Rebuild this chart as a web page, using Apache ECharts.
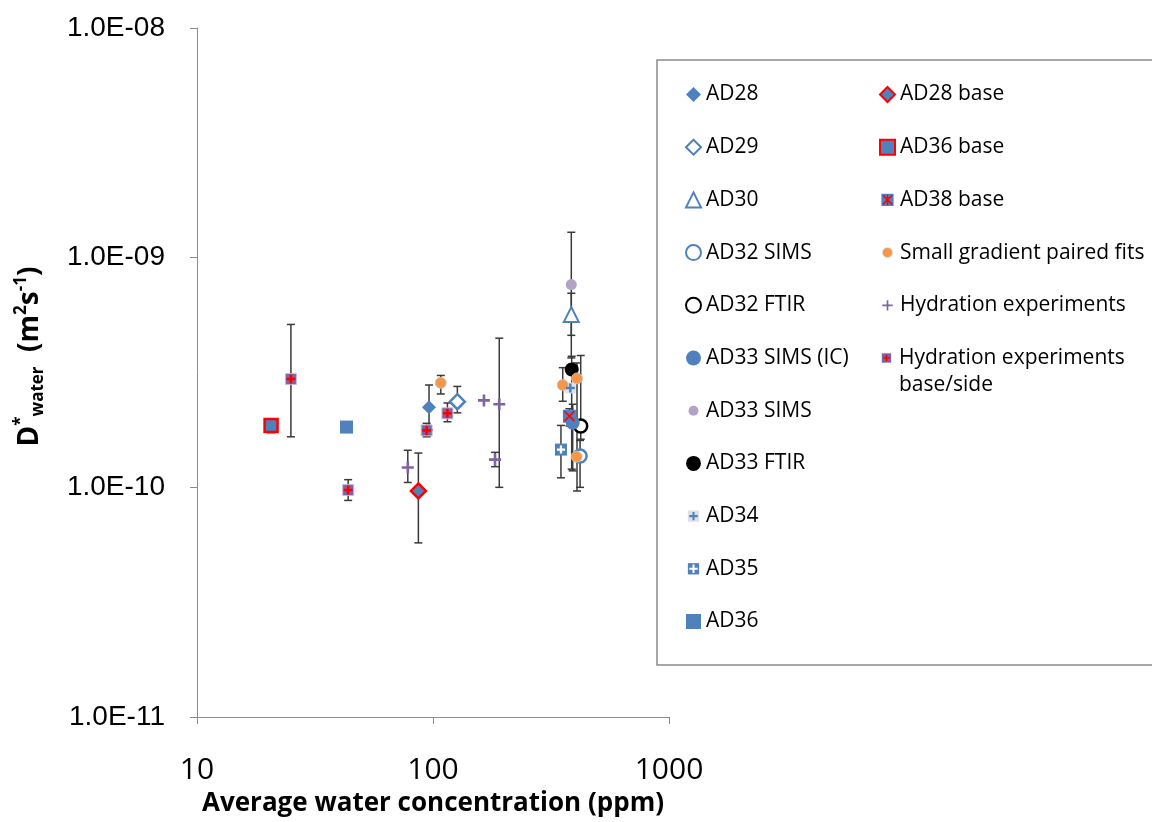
<!DOCTYPE html>
<html>
<head>
<meta charset="utf-8">
<script src="https://cdn.jsdelivr.net/npm/echarts@6/dist/echarts.min.js"></script>
<style>
  html, body { margin: 0; padding: 0; background: #fff; }
  #chart { width: 1152px; height: 822px; }
</style>
</head>
<body>
<div id="chart"></div>
<script>
// rows: [water ppm, D*water, error low, error high]  (null = no error bar)
const ad28 = [[96.2, 2.23e-10, 1.78e-10, 2.79e-10]]
const ad29 = [[126.8, 2.36e-10, 2.11e-10, 2.75e-10]]
const ad30 = [[385.5, 5.65e-10, 3.66e-10, 7.0e-10]]
const ad32Sims = [[419.9, 1.37e-10, 1.0e-10, 1.6e-10]]
const ad32Ftir = [[422.6, 1.85e-10, 1.62e-10, 3.75e-10]]
const ad33SimsIc = [[390.8, 1.91e-10, 1.18e-10, 2.3e-10]]
const ad33Sims = [[385.5, 7.64e-10, 4.59e-10, 1.29e-9]]
const ad33Ftir = [[387.0, 3.26e-10, 1.2e-10, 3.72e-10]]
const ad34 = [[381.9, 2.71e-10, null, null]]
const ad35 = [[348.5, 1.46e-10, 1.1e-10, 1.86e-10]]
const ad36 = [[43.0, 1.83e-10, null, null]]
const ad28Base = [[86.7, 9.64e-11, 5.73e-11, 1.41e-10]]
const ad36Base = [[20.6, 1.86e-10, 1.73e-10, 1.95e-10]]
const ad38Base = [[378.5, 2.04e-10, 1.85e-10, 2.2e-10]]
const smallGradient = [
  [107.9, 2.85e-10, 2.55e-10, 3.07e-10],
  [354.6, 2.79e-10, 2.37e-10, 3.32e-10],
  [407.6, 2.98e-10, 9.64e-11, 3.48e-10],
  [406.0, 1.36e-10, null, null],
]
const hydration = [
  [78.2, 1.22e-10, 1.05e-10, 1.45e-10],
  [164.4, 2.39e-10, null, null],
  [190.9, 2.3e-10, 1.0e-10, 4.46e-10],
  [183.2, 1.32e-10, 1.23e-10, 1.42e-10],
]
const hydrationBase = [
  [25.0, 2.96e-10, 1.66e-10, 5.12e-10],
  [43.7, 9.73e-11, 8.77e-11, 1.08e-10],
  [94.0, 1.77e-10, 1.66e-10, 1.9e-10],
  [115.1, 2.1e-10, 1.93e-10, 2.33e-10],
]

const xTicks = [10, 100, 1000]
const xTickLabels = ['10', '100', '1000']
const yTicks = [1e-11, 1e-10, 1e-9, 1e-8]
const yTickLabels = ['1.0E-11', '1.0E-10', '1.0E-09', '1.0E-08']

const BLUE = '#4F81BD'
const RED = '#FF0000'
const PURPLE = '#8064A2'
const ORANGE = '#F79646'
const LAVENDER = '#B3A2C7'

// symbol paths
const PLUS = 'path://M3.9,0H6.1V3.9H10V6.1H6.1V10H3.9V6.1H0V3.9H3.9Z'
const PLUS_THICK = 'path://M3.6,0H6.4V3.6H10V6.4H6.4V10H3.6V6.4H0V3.6H3.6Z'
const CROSS = 'path://M0,1L1,0L5,4L9,0L10,1L6,5L10,9L9,10L5,6L1,10L0,9L4,5Z'

// legend icons (two colours or smaller than the default box)
const svgIcon = (body) =>
  'image://data:image/svg+xml;utf8,' +
  encodeURIComponent("<svg xmlns='http://www.w3.org/2000/svg' width='16' height='16' viewBox='0 0 16 16'>" + body + '</svg>')
const plusPath = (c) => "<path d='M6.9,3.5h2.2v3.4h3.4v2.2h-3.4v3.4h-2.2v-3.4h-3.4v-2.2h3.4z' fill='" + c + "'/>"
const ICON_AD34 = svgIcon("<rect x='2' y='2' width='12' height='12' fill='#DCE1E8'/>" + plusPath(BLUE))
const ICON_AD35 = svgIcon("<rect x='2' y='2' width='12' height='12' fill='" + BLUE + "'/>" + plusPath('#fff'))
const ICON_AD38 = svgIcon("<rect x='1.5' y='1.5' width='13' height='13' fill='" + BLUE + "'/>" +
  "<path d='M3,3L13,13M13,3L3,13M8,2.5V13.5' stroke='" + RED + "' stroke-width='1.6'/>")
const ICON_HYD_BASE = svgIcon("<rect x='3' y='3' width='10' height='10' fill='" + PURPLE + "'/>" +
  "<path d='M7.1,4.5h1.8v2.6h2.6v1.8h-2.6v2.6h-1.8v-2.6h-2.6v-1.8h2.6z' fill='" + RED + "'/>")
const ICON_ORANGE = svgIcon("<circle cx='8' cy='8' r='5.3' fill='" + ORANGE + "' stroke='#d0d6de' stroke-width='0.8'/>")
const ICON_LAVENDER = svgIcon("<circle cx='8' cy='8' r='5.3' fill='" + LAVENDER + "'/>")
const ICON_HYD = svgIcon("<path d='M7.1,2.5h1.8v4.6h4.6v1.8h-4.6v4.6h-1.8v-4.6h-4.6v-1.8h4.6z' fill='" + PURPLE + "'/>")

const tickLabel = (ticks, labels) => (v) => {
  const i = ticks.findIndex((t) => Math.abs(Math.log10(t) - Math.log10(v)) < 0.01)
  return i >= 0 ? labels[i] : ''
}

const pts = (rows) => rows.map((r) => [r[0], r[1]])

const scatter = (name, rows, symbol, size, itemStyle, z) => ({
  name,
  type: 'scatter',
  data: pts(rows),
  symbol,
  symbolSize: size,
  itemStyle: Object.assign({ opacity: 1 }, itemStyle),
  emphasis: { disabled: true },
  z: z || 3,
})

// all error bars in one custom series, drawn behind the markers
const allRows = [ad28, ad29, ad30, ad32Sims, ad32Ftir, ad33SimsIc, ad33Sims, ad33Ftir, ad34, ad35, ad36,
  ad28Base, ad36Base, ad38Base, smallGradient, hydration, hydrationBase]
const errData = allRows.flat().filter((r) => r[2] != null)

function renderErr(params, api) {
  const x = api.value(0)
  const p1 = api.coord([x, api.value(2)])
  const p2 = api.coord([x, api.value(3)])
  const w = 4
  const style = { stroke: '#3a3a3a', lineWidth: 1.5 }
  return {
    type: 'group',
    children: [
      { type: 'line', shape: { x1: p1[0], y1: p1[1], x2: p2[0], y2: p2[1] }, style },
      { type: 'line', shape: { x1: p1[0] - w, y1: p1[1], x2: p1[0] + w, y2: p1[1] }, style },
      { type: 'line', shape: { x1: p2[0] - w, y1: p2[1], x2: p2[0] + w, y2: p2[1] }, style },
    ],
  }
}

const legend1 = ['AD28', 'AD29', 'AD30', 'AD32 SIMS', 'AD32 FTIR', 'AD33 SIMS (IC)',
  { name: 'AD33 SIMS', icon: ICON_LAVENDER }, 'AD33 FTIR',
  { name: 'AD34', icon: ICON_AD34 }, { name: 'AD35', icon: ICON_AD35 }, 'AD36']
const legend2 = ['AD28 base', 'AD36 base', { name: 'AD38 base', icon: ICON_AD38 },
  { name: 'Small gradient paired fits', icon: ICON_ORANGE }, { name: 'Hydration experiments', icon: ICON_HYD }]
const legendText = { fontFamily: 'Open Sans', fontSize: 21, color: '#000', lineHeight: 27 }
const legendCommon = {
  orient: 'vertical',
  top: 76,
  itemGap: 25.7,
  itemWidth: 15,
  itemHeight: 15,
  selectedMode: false,
  textStyle: legendText,
}

const chart = echarts.init(document.getElementById('chart'))

chart.setOption({
  backgroundColor: '#fff',
  animation: false,
  grid: { left: 197, top: 28, width: 472, height: 690 },
  graphic: [
    {
      type: 'rect',
      shape: { x: 657, y: 60, width: 520, height: 605 },
      style: { fill: 'none', stroke: '#8a8a8a', lineWidth: 1.5 },
      z: 0,
    },
  ],
  legend: [
    Object.assign({}, legendCommon, { data: legend1, left: 680 }),
    Object.assign({}, legendCommon, { data: legend2, left: 874 }),
    Object.assign({}, legendCommon, {
      data: [{ name: 'Hydration experiments base/side', icon: ICON_HYD_BASE }],
      formatter: () => ' \nHydration experiments\nbase/side',
      left: 874,
      top: 312.5,
    }),
  ],
  xAxis: {
    type: 'log',
    logBase: 10,
    min: 10,
    max: 1000,
    name: 'Average water concentration (ppm)',
    nameLocation: 'middle',
    nameGap: 74,
    nameTextStyle: { fontFamily: 'Open Sans', fontWeight: 'bold', fontSize: 26, color: '#000' },
    axisLine: { lineStyle: { color: '#8c8c8c', width: 1 } },
    axisTick: { show: true, length: 7, lineStyle: { color: '#8c8c8c' } },
    minorTick: { show: false },
    splitLine: { show: false },
    axisLabel: {
      margin: 38,
      fontFamily: 'Open Sans',
      fontSize: 30,
      color: '#000',
      formatter: tickLabel(xTicks, xTickLabels),
    },
  },
  yAxis: {
    type: 'log',
    logBase: 10,
    min: 1e-11,
    max: 1e-8,
    name: '{b|D}{sup|*}{sub|water}{b|  (m}{sup|2}{b|s}{sup|-1}{b|)}',
    nameLocation: 'middle',
    nameRotate: 90,
    nameGap: 150,
    nameTextStyle: {
      padding: [0, 0, 0, 32],
      rich: {
        b: { fontFamily: 'Open Sans', fontWeight: 'bold', fontSize: 28, color: '#000', lineHeight: 34 },
        sup: { fontFamily: 'Open Sans', fontWeight: 'bold', fontSize: 17, color: '#000', lineHeight: 17, verticalAlign: 'top' },
        sub: { fontFamily: 'Open Sans', fontWeight: 'bold', fontSize: 17, color: '#000', lineHeight: 17, verticalAlign: 'bottom' },
      },
    },
    axisLine: { show: true, lineStyle: { color: '#8c8c8c', width: 1 } },
    axisTick: { show: true, length: 7, lineStyle: { color: '#8c8c8c' } },
    minorTick: { show: false },
    splitLine: { show: false },
    axisLabel: {
      margin: 32,
      fontFamily: 'Liberation Sans',
      fontSize: 28,
      color: '#000',
      formatter: tickLabel(yTicks, yTickLabels),
    },
  },
  series: [
    {
      name: 'errors',
      type: 'custom',
      data: errData,
      encode: { x: 0, y: 1 },
      renderItem: renderErr,
      z: 1,
      silent: true,
    },
    scatter('AD28', ad28, 'diamond', 14, { color: BLUE }),
    scatter('AD29', ad29, 'diamond', 15, { color: '#fff', borderColor: BLUE, borderWidth: 2.5 }),
    scatter('AD30', ad30, 'triangle', 15, { color: '#fff', borderColor: BLUE, borderWidth: 2 }),
    scatter('AD32 SIMS', ad32Sims, 'circle', 13, { color: '#fff', borderColor: BLUE, borderWidth: 2.5 }),
    scatter('AD32 FTIR', ad32Ftir, 'circle', 13, { color: '#fff', borderColor: '#000', borderWidth: 2.5 }),
    scatter('AD33 SIMS (IC)', ad33SimsIc, 'circle', 14, { color: BLUE }),
    scatter('AD33 SIMS', ad33Sims, 'circle', 11, { color: LAVENDER }),
    scatter('AD33 FTIR', ad33Ftir, 'circle', 14, { color: '#000' }),
    scatter('AD34', ad34, 'rect', 11, { color: '#E0E4EA' }),
    scatter('AD34', ad34, PLUS_THICK, 9, { color: BLUE }, 4),
    scatter('AD35', ad35, 'rect', 12, { color: BLUE }),
    scatter('AD35', ad35, PLUS_THICK, 8, { color: '#fff' }, 4),
    scatter('AD36', ad36, 'rect', 13, { color: BLUE }),
    scatter('AD28 base', ad28Base, 'diamond', 15, { color: BLUE, borderColor: RED, borderWidth: 2.5 }),
    scatter('AD36 base', ad36Base, 'rect', 13, { color: BLUE, borderColor: RED, borderWidth: 2.5 }),
    scatter('AD38 base', ad38Base, 'rect', 13, { color: BLUE }),
    scatter('AD38 base', ad38Base, CROSS, 11, { color: RED }, 4),
    scatter('Small gradient paired fits', smallGradient, 'circle', 11, { color: ORANGE, borderColor: 'rgba(190,200,210,0.9)', borderWidth: 1 }),
    scatter('Hydration experiments', hydration, PLUS, 12, { color: PURPLE }),
    scatter('Hydration experiments base/side', hydrationBase, 'rect', 11, { color: PURPLE, borderColor: 'rgba(200,190,220,0.9)', borderWidth: 1 }),
    scatter('Hydration experiments base/side', hydrationBase, PLUS_THICK, 9, { color: RED }, 4),
  ],
})
</script>
</body>
</html>
